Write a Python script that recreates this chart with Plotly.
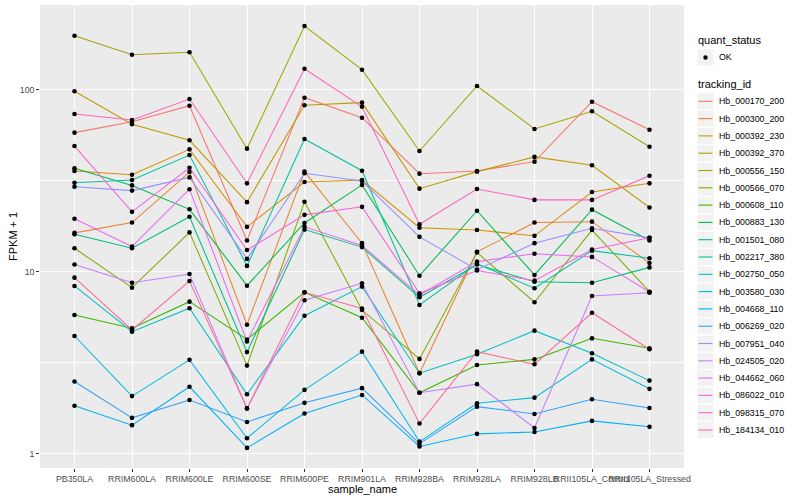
import plotly.graph_objects as go

# ---------------- data (FPKM + 1) ----------------
samples = ["PB350LA", "RRIM600LA", "RRIM600LE", "RRIM600SE", "RRIM600PE",
           "RRIM901LA", "RRIM928BA", "RRIM928LA", "RRIM928LB",
           "RRII105LA_Control", "RRII105LA_Stressed"]

tracking_ids = ["Hb_000170_200", "Hb_000300_200", "Hb_000392_230", "Hb_000392_370",
                "Hb_000556_150", "Hb_000566_070", "Hb_000608_110", "Hb_000883_130",
                "Hb_001501_080", "Hb_002217_380", "Hb_002750_050", "Hb_003580_030",
                "Hb_004668_110", "Hb_006269_020", "Hb_007951_040", "Hb_024505_020",
                "Hb_044662_060", "Hb_086022_010", "Hb_098315_070", "Hb_184134_010"]

hb_000170_200 = [58.3, 66.9, 82.0, 14.9, 90.7, 70.4, 34.7, 35.9, 40.4, 86.2, 60.5]
hb_000300_200 = [16.4, 18.7, 35.4, 5.13, 35.6, 14.4, 2.78, 12.9, 18.7, 18.9, 11.2]
hb_000392_230 = [35.9, 34.2, 47.2, 17.7, 31.2, 32.0, 17.5, 17.0, 15.8, 27.5, 30.7]
hb_000392_370 = [98.4, 64.8, 52.9, 24.2, 82.4, 85.2, 28.7, 35.6, 42.9, 38.6, 22.6]
hb_000556_150 = [198.8, 156.3, 161.1, 47.6, 224.7, 129.3, 46.2, 105.2, 61.1, 76.4, 48.8]
hb_000566_070 = [13.5, 8.20, 16.5, 3.06, 24.3, 6.18, 3.33, 12.8, 6.82, 17.0, 7.79]
hb_000608_110 = [5.80, 4.91, 6.87, 4.26, 7.73, 5.61, 2.17, 3.08, 3.31, 4.32, 3.81]
hb_000883_130 = [37.1, 29.9, 22.1, 8.41, 18.6, 30.1, 9.54, 21.7, 9.63, 22.0, 14.9]
hb_001501_080 = [16.1, 13.5, 20.1, 3.63, 17.1, 13.7, 7.26, 11.0, 8.84, 8.73, 10.6]
hb_002217_380 = [30.9, 32.0, 43.9, 10.8, 53.8, 36.0, 6.59, 11.1, 8.14, 13.1, 11.9]
hb_002750_050 = [8.38, 4.70, 6.32, 2.13, 5.75, 8.31, 2.78, 3.53, 4.76, 3.58, 2.53]
hb_003580_030 = [4.45, 2.08, 3.29, 1.22, 2.25, 3.65, 1.17, 1.90, 2.04, 3.31, 2.28]
hb_004668_110 = [1.84, 1.44, 2.34, 1.08, 1.67, 2.11, 1.10, 1.29, 1.32, 1.52, 1.41]
hb_006269_020 = [2.50, 1.58, 1.98, 1.50, 1.91, 2.30, 1.14, 1.82, 1.66, 2.00, 1.79]
hb_007951_040 = [29.4, 28.0, 33.1, 11.8, 34.9, 31.6, 15.6, 10.3, 14.4, 17.4, 15.4]
hb_024505_020 = [11.0, 8.73, 9.75, 1.78, 6.99, 8.67, 2.17, 2.42, 1.39, 7.38, 7.69]
hb_044662_060 = [19.6, 13.8, 28.5, 4.15, 17.7, 14.0, 7.47, 11.4, 12.6, 12.1, 7.76]
hb_086022_010 = [49.2, 21.4, 37.4, 13.2, 20.6, 22.8, 7.64, 10.2, 8.96, 13.3, 15.4]
hb_098315_070 = [73.8, 68.4, 89.2, 30.7, 130.9, 80.9, 18.3, 28.6, 24.9, 24.9, 33.8]
hb_184134_010 = [9.31, 4.80, 8.92, 1.78, 7.73, 6.30, 1.47, 3.65, 3.11, 5.97, 3.76]

series = [hb_000170_200, hb_000300_200, hb_000392_230, hb_000392_370, hb_000556_150,
          hb_000566_070, hb_000608_110, hb_000883_130, hb_001501_080, hb_002217_380,
          hb_002750_050, hb_003580_030, hb_004668_110, hb_006269_020, hb_007951_040,
          hb_024505_020, hb_044662_060, hb_086022_010, hb_098315_070, hb_184134_010]

quant_status = ["OK"]

# ggplot2 default hue palette (20 levels)
colors = ["#F8766D", "#EA8331", "#D89000", "#C09B00", "#A3A500", "#7CAE00", "#39B600",
          "#00BB4E", "#00BF7D", "#00C1A3", "#00BFC4", "#00BAE0", "#00B0F6", "#35A2FF",
          "#9590FF", "#C77CFF", "#E76BF3", "#FA62DB", "#FF62BC", "#FF6C91"]

# ---------------- figure ----------------
W, H = 800, 500
L, R, T, B = 40, 684, 5, 468  # panel in pixels

def fx(px):
    return (px - L) / (R - L)

def fy(py):
    return (B - py) / (B - T)

FONT = "Liberation Sans, Arial, Helvetica, sans-serif"

fig = go.Figure()

for tid, vals, col in zip(tracking_ids, series, colors):
    fig.add_trace(go.Scatter(
        x=samples, y=vals, mode="lines", name=tid,
        line=dict(color=col, width=1.05), showlegend=False, hoverinfo="skip"))

# points (quant_status = OK), drawn on top
px_all, py_all = [], []
for vals in series:
    px_all += samples
    py_all += vals
fig.add_trace(go.Scatter(
    x=px_all, y=py_all, mode="markers", name=quant_status[0],
    marker=dict(color="black", size=4.6), showlegend=False, hoverinfo="skip"))

shapes = []
annotations = []

# legend: quant_status
annotations.append(dict(x=fx(696), y=fy(40), xref="paper", yref="paper",
                        text="quant_status", showarrow=False, xanchor="left",
                        yanchor="middle", font=dict(family=FONT, size=11, color="black")))
shapes.append(dict(type="rect", xref="paper", yref="paper",
                   x0=fx(697), x1=fx(714), y0=fy(49), y1=fy(66),
                   fillcolor="#F2F2F2", line=dict(color="white", width=1)))
shapes.append(dict(type="circle", xref="paper", yref="paper",
                   x0=fx(703.3), x1=fx(707.7), y0=fy(55.3), y1=fy(59.7),
                   fillcolor="black", line=dict(color="black", width=0)))
annotations.append(dict(x=fx(716.5), y=fy(57.5), xref="paper", yref="paper",
                        text=quant_status[0], showarrow=False, xanchor="left",
                        yanchor="middle", font=dict(family=FONT, size=8.8, color="black")))

# legend: tracking_id
annotations.append(dict(x=fx(696), y=fy(84), xref="paper", yref="paper",
                        text="tracking_id", showarrow=False, xanchor="left",
                        yanchor="middle", font=dict(family=FONT, size=11, color="black")))
for i, (tid, col) in enumerate(zip(tracking_ids, colors)):
    cy = 101.3 + i * 17.3
    shapes.append(dict(type="rect", xref="paper", yref="paper",
                       x0=fx(697), x1=fx(714), y0=fy(cy - 8.5), y1=fy(cy + 8.5),
                       fillcolor="#F2F2F2", line=dict(color="white", width=1)))
    shapes.append(dict(type="line", xref="paper", yref="paper",
                       x0=fx(698.5), x1=fx(712.5), y0=fy(cy), y1=fy(cy),
                       line=dict(color=col, width=1.1)))
    annotations.append(dict(x=fx(716.5), y=fy(cy), xref="paper", yref="paper",
                            text=tid, showarrow=False, xanchor="left", yanchor="middle",
                            font=dict(family=FONT, size=8.8, color="black")))

# axis titles
annotations.append(dict(x=fx((L + R) / 2), y=fy(488.5), xref="paper", yref="paper",
                        text="sample_name", showarrow=False, xanchor="center",
                        yanchor="middle", font=dict(family=FONT, size=11, color="black")))
annotations.append(dict(x=fx(12.5), y=fy((T + B) / 2), xref="paper", yref="paper",
                        text="FPKM + 1", showarrow=False, textangle=-90,
                        xanchor="center", yanchor="middle",
                        font=dict(family=FONT, size=11, color="black")))

fig.update_layout(
    width=W, height=H,
    margin=dict(l=L, r=W - R, t=T, b=H - B, pad=0),
    paper_bgcolor="white", plot_bgcolor="#EBEBEB",
    font=dict(family=FONT, size=8.8, color="#4D4D4D"),
    shapes=shapes, annotations=annotations,
    showlegend=False,
)
fig.update_xaxes(
    type="category", categoryorder="array", categoryarray=samples,
    range=[-0.6, len(samples) - 0.4], fixedrange=True,
    showgrid=True, gridcolor="white", gridwidth=1.1, zeroline=False, showline=False,
    ticks="outside", ticklen=2.8, tickwidth=1, tickcolor="#333333",
    tickfont=dict(family=FONT, size=8.8, color="#4D4D4D"), tickangle=0,
)
fig.update_yaxes(
    type="log", range=[-0.077, 2.467], fixedrange=True,
    tickvals=[1, 10, 100], ticktext=["1", "10", "100"],
    showgrid=True, gridcolor="white", gridwidth=1.1, zeroline=False, showline=False,
    ticks="outside", ticklen=2.8, tickwidth=1, tickcolor="#333333",
    tickfont=dict(family=FONT, size=8.8, color="#4D4D4D"),
    minor=dict(tickmode="array", tickvals=[10 ** 0.5, 10 ** 1.5], showgrid=True,
               gridcolor="white", gridwidth=0.55, ticks=""),
)

fig.write_html("out.html", config={"displayModeBar": False},
               post_script="document.body.style.margin='0px';document.body.style.padding='0px';")
